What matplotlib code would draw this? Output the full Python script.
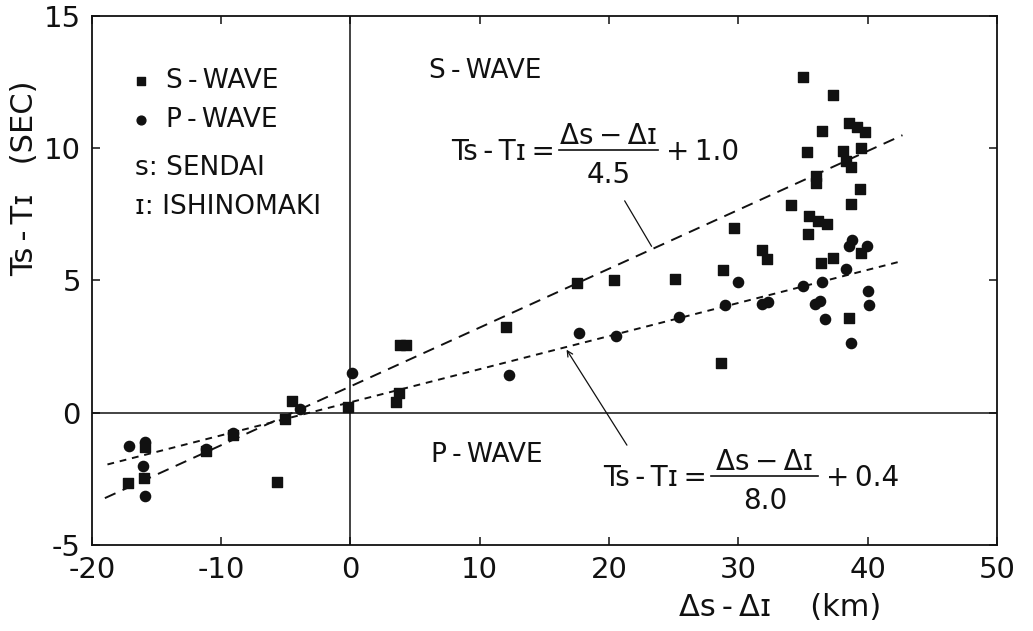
import numpy as np
import matplotlib
matplotlib.use("Agg")
import matplotlib.pyplot as plt

plt.rcParams['font.family'] = ['DejaVu Sans']
plt.rcParams['axes.unicode_minus'] = False

# S-wave (squares) and P-wave (circles)
s_x = [-17.2, -16.0, -15.9, -11.2, -9.05, -5.65, -5.06, -4.5, -0.2, 3.5, 3.74, 3.8, 4.3,
       12.0, 17.5, 20.4, 25.1, 28.8, 28.7, 29.7, 31.8, 32.2, 34.1, 34.98, 35.3, 35.4,
       35.5, 36.0, 36.0, 36.2, 36.4, 36.5, 36.9, 37.3, 37.3, 38.1, 38.3, 38.6, 38.6,
       38.7, 38.7, 39.2, 39.4, 39.5, 39.5, 39.8]
s_y = [-2.65, -2.46, -1.3, -1.45, -0.85, -2.6, -0.25, 0.45, 0.23, 0.41, 0.75, 2.55, 2.55,
       3.25, 4.9, 5.0, 5.05, 5.4, 1.9, 7.0, 6.15, 5.8, 7.85, 12.7, 9.85, 6.75,
       7.45, 8.95, 8.7, 7.25, 5.65, 10.65, 7.15, 12.0, 5.85, 9.9, 9.5, 10.95, 3.6,
       9.3, 7.9, 10.8, 8.45, 10.0, 6.05, 10.6]

p_x = [-17.16, -15.9, -16.05, -15.9, -11.2, -9.05, -3.92, 0.1, 12.3, 17.67, 20.57, 25.41,
       28.94, 29.99, 31.84, 32.29, 35.03, 35.95, 36.34, 36.47, 36.73, 38.35, 38.56, 38.77,
       38.7, 39.95, 40.05, 40.13]
p_y = [-1.25, -1.1, -2.01, -3.16, -1.35, -0.75, 0.14, 1.5, 1.42, 3.03, 2.89, 3.63,
       4.06, 4.94, 4.11, 4.17, 4.79, 4.11, 4.21, 4.94, 3.56, 5.43, 6.32, 6.53,
       2.65, 6.32, 4.62, 4.07]

# fitted lines: T = x / a + b
s_fit = (4.5, 1.0)
p_fit = (8.0, 0.4)
s_range = (-19.0, 42.7)
p_range = (-18.8, 42.6)

x_ticks = [-20, -10, 0, 10, 20, 30, 40, 50]
y_ticks = [-5, 0, 5, 10, 15]

ink = '#111111'
th = '\u2009'  # thin space, the lettering in the original is widely spaced

fig = plt.figure(figsize=(10.33, 6.31), dpi=100)
ax = fig.add_axes([0.089, 0.136, 0.876, 0.839])

ax.set_xlim(-20, 50)
ax.set_ylim(-5, 15)
ax.set_xticks(x_ticks)
ax.set_yticks(y_ticks)
ax.tick_params(direction='in', length=6, width=1.1, top=True, right=True,
               labelsize=21, colors=ink, pad=8)
for sp in ax.spines.values():
    sp.set_linewidth(1.3)
    sp.set_color(ink)

ax.axhline(0, color=ink, lw=1.1)
ax.axvline(0, color=ink, lw=1.1)

xs = np.linspace(*s_range, 2)
ax.plot(xs, xs / s_fit[0] + s_fit[1], color=ink, lw=1.4, dashes=(6, 4))
xp = np.linspace(*p_range, 2)
ax.plot(xp, xp / p_fit[0] + p_fit[1], color=ink, lw=1.4, dashes=(3.5, 3))

ax.scatter(s_x, s_y, marker='s', s=50, color=ink, zorder=3)
ax.scatter(p_x, p_y, marker='o', s=54, color=ink, zorder=3)

# legend-like block
ax.scatter([-16.2], [12.53], marker='s', s=36, color=ink)
ax.scatter([-16.2], [11.08], marker='o', s=40, color=ink)
ax.text(-14.3, 12.53, f'S{th}-{th}WAVE', fontsize=19, va='center', color=ink)
ax.text(-14.3, 11.08, f'P{th}-{th}WAVE', fontsize=19, va='center', color=ink)
ax.text(-16.7, 9.24, 's: SENDAI', fontsize=19, va='center', color=ink)
ax.text(-16.7, 7.78, 'ɪ: ISHINOMAKI', fontsize=19, va='center', color=ink)

ax.text(6.1, 12.9, f'S{th}-{th}WAVE', fontsize=19, va='center', color=ink)
ax.text(6.2, -1.6, f'P{th}-{th}WAVE', fontsize=19, va='center', color=ink)


def equation(y, num, den, tail, bar0, bar1):
    xc = (bar0 + bar1) / 2
    ax.text(bar0 - 0.3, y, f'Ts{th}-{th}Tɪ{th}=', fontsize=20, ha='right', va='center', color=ink)
    ax.text(xc, y + 0.6, num, fontsize=20, ha='center', va='center', color=ink)
    ax.plot([bar0, bar1], [y + 0.08, y + 0.08], color=ink, lw=1.2)
    ax.text(xc, y - 0.88, den, fontsize=20, ha='center', va='center', color=ink)
    ax.text(bar1 + 0.6, y, f'+{th}{tail}', fontsize=20, va='center', color=ink)


equation(9.86, f'Δs{th}−{th}Δɪ', '4.5', '1.0', 16.1, 23.8)
equation(-2.46, f'Δs{th}−{th}Δɪ', '8.0', '0.4', 27.9, 36.2)

ax.annotate('', xy=(23.4, 23.4 / s_fit[0] + s_fit[1]), xytext=(21.1, 8.1),
            arrowprops=dict(arrowstyle='-', color=ink, lw=0.9))
ax.annotate('', xy=(16.6, 16.6 / p_fit[0] + p_fit[1]), xytext=(21.5, -1.31),
            arrowprops=dict(arrowstyle='->', color=ink, lw=0.9))

ax.set_ylabel(f'Ts{th}-{th}Tɪ   (SEC)', fontsize=22, color=ink)
ax.yaxis.set_label_coords(-0.058, 0.694)
ax.set_xlabel(f'Δs{th}-{th}Δɪ    (km)', fontsize=22, color=ink)
ax.xaxis.set_label_coords(0.761, -0.09)

fig.savefig('out.png', dpi=100)
